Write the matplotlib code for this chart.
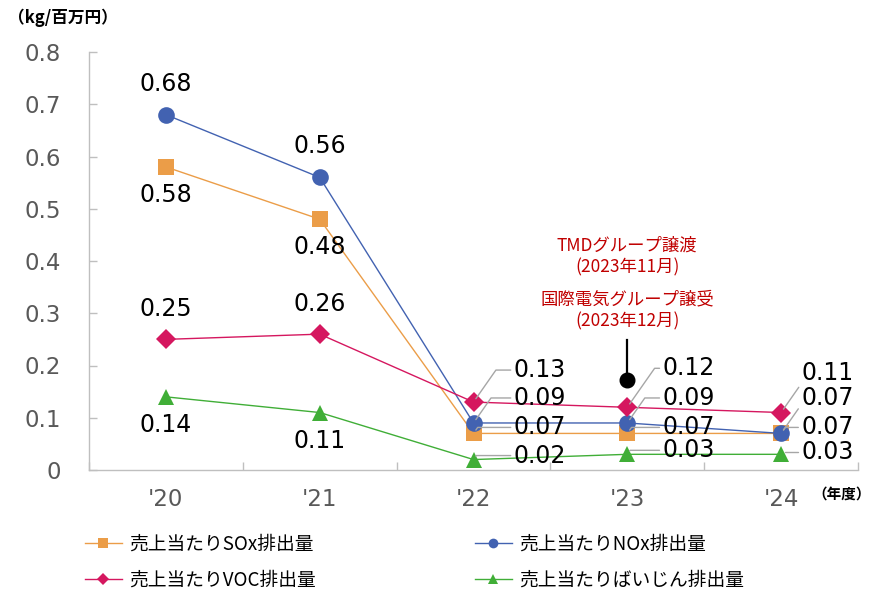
import matplotlib
matplotlib.use('Agg')
import matplotlib.pyplot as plt
from matplotlib.lines import Line2D

# data
years = ["'20", "'21", "'22", "'23", "'24"]
sox = [0.58, 0.48, 0.07, 0.07, 0.07]
nox = [0.68, 0.56, 0.09, 0.09, 0.07]
voc = [0.25, 0.26, 0.13, 0.12, 0.11]
dust = [0.14, 0.11, 0.02, 0.03, 0.03]
names = ['売上当たりSOx排出量', '売上当たりNOx排出量', '売上当たりVOC排出量', '売上当たりばいじん排出量']
yticks = [0, 0.1, 0.2, 0.3, 0.4, 0.5, 0.6, 0.7, 0.8]
unit_label = '（kg/百万円）'
year_label = '（年度）'
note_transfer = 'TMDグループ譲渡\n(2023年11月)'
note_acquire = '国際電気グループ譲受\n(2023年12月)'
note_year = 3

CJK = ['Noto Sans CJK JP', 'DejaVu Sans']
GRAY = '#595959'
LEAD = '#A6A6A6'

series = [sox, nox, voc, dust]
styles = [('#EB9D48', 's', 12), ('#4262B1', 'o', 12), ('#D5175F', 'D', 10), ('#40AE37', '^', 12)]
# label offsets in pixels: first two years above(+)/below(-), rest to the right with leader
first_dy = [-28, 31, 30, -28]
right_off = [
    [(40, 6), (35, 6), (20, 6)],
    [(40, 25), (35, 25), (20, 35)],
    [(40, 32), (35, 39), (20, 40)],
    [(40, 4), (35, 4), (20, 2)],
]

fig = plt.figure(figsize=(8.73, 5.94), dpi=100)
ax = fig.add_axes([89 / 873, 1 - 470 / 594, 769 / 873, 418 / 594])

x = list(range(len(years)))
handles = []
for vals, (col, mk, ms), name in zip(series, styles, names):
    ax.plot(x, vals, color=col, lw=1.0, marker=mk, ms=ms, mew=0, zorder=3)
    handles.append(Line2D([], [], color=col, lw=1.0, marker=mk, ms=7 if mk != 'D' else 6, mew=0, label=name))

for vals, dy0, offs in zip(series, first_dy, right_off):
    for i in range(2):
        ax.annotate(f'{vals[i]:.2f}', (x[i], vals[i]), xytext=(0, dy0), textcoords='offset pixels',
                    ha='center', va='center', fontsize=17, color='black', zorder=5)
    for i, (dx, dy) in zip(range(2, 5), offs):
        ax.annotate(f'{vals[i]:.2f}', (x[i], vals[i]), xytext=(dx, dy), textcoords='offset pixels',
                    ha='left', va='center', fontsize=17, color='black', zorder=5,
                    arrowprops=dict(arrowstyle='-', color=LEAD, lw=1.0, shrinkA=0, shrinkB=3,
                                    relpos=(0, 0.5),
                                    connectionstyle='angle,angleA=0,angleB=55'))

# divestiture / acquisition note
ax.plot([note_year, note_year], [0.172, 0.249], color='black', lw=1.6, zorder=4)
ax.plot([note_year], [0.172], 'o', color='black', ms=10.5, zorder=4)
ax.text(note_year, 0.408, note_transfer, ha='center', va='center', color='#C00000',
        fontsize=12.5, family=CJK, linespacing=1.25)
ax.text(note_year, 0.306, note_acquire, ha='center', va='center', color='#C00000',
        fontsize=12.5, family=CJK, linespacing=1.25)

ax.set_xlim(-0.5, len(years) - 0.5)
ax.set_ylim(0, 0.8)
ax.set_yticks(yticks)
ax.set_yticklabels(['0' if v == 0 else f'{v:.1f}' for v in yticks])
ax.set_xticks(x)
ax.set_xticklabels(years)
ax.set_xticks([i + 0.5 for i in range(-1, len(years))], minor=True)
ax.tick_params(axis='x', which='major', length=0, pad=13, labelsize=16.5, labelcolor=GRAY)
ax.tick_params(axis='x', which='minor', direction='in', length=6, color='#BFBFBF', width=1)
ax.tick_params(axis='y', direction='in', length=6, color='#BFBFBF', width=1, pad=20,
               labelsize=16.5, labelcolor=GRAY)
for s in ['top', 'right']:
    ax.spines[s].set_visible(False)
for s in ['left', 'bottom']:
    ax.spines[s].set_color('#BFBFBF')
    ax.spines[s].set_linewidth(1)

fig.text(8 / 873, 1 - 18 / 594, unit_label, fontsize=12, fontweight='bold', family=CJK, va='center')
fig.text(871 / 873, 1 - 494 / 594, year_label, fontsize=10.5, fontweight='bold', family=CJK,
         va='center', ha='right')

order = [handles[0], handles[2], handles[1], handles[3]]
fig.legend(handles=order, loc='upper left', bbox_to_anchor=(85 / 873, 1 - 534 / 594), ncol=2,
           frameon=False, borderpad=0, borderaxespad=0, handlelength=1.95, handletextpad=0.4,
           columnspacing=8.5, labelspacing=0.8, prop={'family': CJK, 'size': 13.5})

fig.savefig('out.png', dpi=100)
